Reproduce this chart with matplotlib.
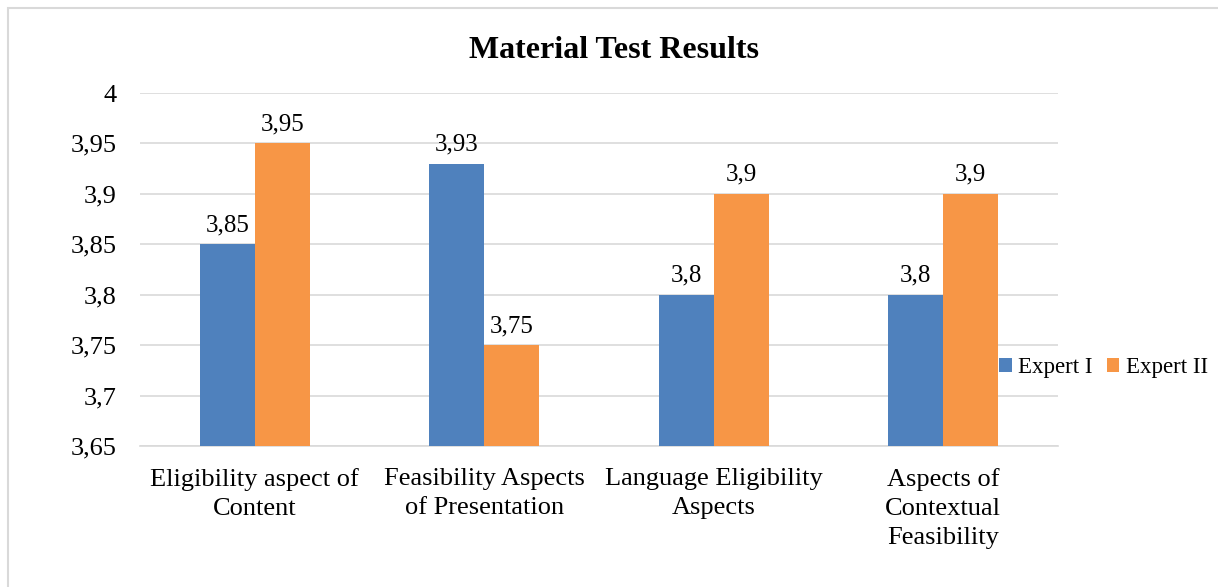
import numpy as np
import matplotlib
matplotlib.use('Agg')
import matplotlib.pyplot as plt
from matplotlib.patches import Rectangle

# Data
categories = ['Eligibility aspect of\nContent', 'Feasibility Aspects\nof Presentation',
              'Language Eligibility\nAspects', 'Aspects of\nContextual\nFeasibility']
expert_1 = [3.85, 3.93, 3.80, 3.80]
expert_2 = [3.95, 3.75, 3.90, 3.90]
labels_1 = ['3,85', '3,93', '3,8', '3,8']
labels_2 = ['3,95', '3,75', '3,9', '3,9']
yticks = [3.65, 3.70, 3.75, 3.80, 3.85, 3.90, 3.95, 4.00]
ytick_labels = ['3,65', '3,7', '3,75', '3,8', '3,85', '3,9', '3,95', '4']

BLUE = '#4f81bd'
ORANGE = '#f79646'
GRID = '#d9d9d9'

plt.rcParams['font.family'] = ['Liberation Serif', 'DejaVu Serif']

fig = plt.figure(figsize=(12.18, 5.87), dpi=100)
ax = fig.add_axes([140 / 1218, 1 - 446 / 587, 918 / 1218, (446 - 93) / 587])

x = np.arange(len(categories))
w = 0.24
b1 = ax.bar(x - w / 2, np.array(expert_1) - 3.65, w, bottom=3.65, color=BLUE, label='Expert I', zorder=3)
b2 = ax.bar(x + w / 2, np.array(expert_2) - 3.65, w, bottom=3.65, color=ORANGE, label='Expert II', zorder=3)

for rect, lab in zip(b1, labels_1):
    ax.text(rect.get_x() + rect.get_width() / 2, rect.get_y() + rect.get_height() + 0.008, lab,
            ha='center', va='bottom', fontsize=18)
for rect, lab in zip(b2, labels_2):
    ax.text(rect.get_x() + rect.get_width() / 2, rect.get_y() + rect.get_height() + 0.008, lab,
            ha='center', va='bottom', fontsize=18)

ax.set_xlim(-0.5, len(categories) - 0.5)
ax.set_ylim(3.65, 4.0)
ax.set_yticks(yticks)
ax.set_yticklabels(ytick_labels, fontsize=19)
ax.set_xticks(x)
ax.set_xticklabels(categories, fontsize=19, linespacing=1.42)
ax.tick_params(length=0)
ax.tick_params(axis='y', pad=17)
ax.tick_params(axis='x', pad=16)
ax.grid(axis='y', color=GRID, linewidth=1.2, zorder=0)
for s in ['top', 'left', 'right']:
    ax.spines[s].set_visible(False)
ax.spines['bottom'].set_color(GRID)
ax.spines['bottom'].set_linewidth(1.2)

fig.text(614 / 1218, 1 - 50 / 587, 'Material Test Results', ha='center', va='center',
         fontsize=23, fontweight='bold')

fig.legend(handles=[b1, b2], loc='center left', bbox_to_anchor=(999 / 1218, 1 - 368 / 587),
           ncol=2, frameon=False, fontsize=16.5, handlelength=0.55, handleheight=0.55,
           handletextpad=0.3, columnspacing=0.6, borderpad=0, borderaxespad=0)

fig.patches.append(Rectangle((8 / 1218, -0.1), 1.2, 1.1 - 8 / 587, transform=fig.transFigure,
                             fill=False, edgecolor='#d9d9d9', linewidth=1.5, clip_on=False))

fig.savefig('out.png', dpi=100)
